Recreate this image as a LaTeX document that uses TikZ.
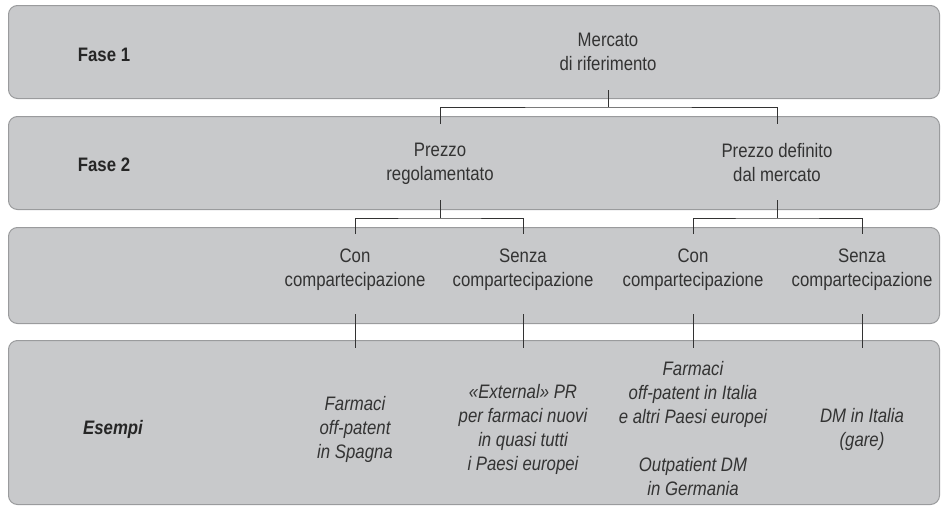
\documentclass[tikz,border=0pt]{standalone}
\usepackage{fontspec}
\setmainfont{Liberation Sans}[FakeStretch=0.86]
\usetikzlibrary{positioning}

\definecolor{bandgray}{HTML}{C8C9CB}
\definecolor{bandline}{HTML}{9A9B9D}
\definecolor{linkgray}{HTML}{333333}

\newcommand{\diagfont}{\fontsize{19.5}{24}\selectfont}

\tikzset{
  band/.style={draw=bandline, fill=bandgray, line width=1pt, rounded corners=9pt,
    minimum width=931pt, inner sep=0pt, anchor=north west},
  fase/.style={font=\diagfont\bfseries, text=black!85},
  lbl/.style={font=\diagfont, align=center, text=black!80},
  esempio/.style={font=\diagfont\itshape, align=center, text=black!80},
  link/.style={draw=linkgray, line width=1pt},
}

\begin{document}
\begin{tikzpicture}[x=1pt, y=-1pt]
  \useasboundingbox (0,0) rectangle (941,506);

  % bands
  \node[band, minimum height=93pt] (band1) at (8,5) {};
  \node[band, minimum height=93pt] (band2) at (8,116) {};
  \node[band, minimum height=96pt] (band3) at (8,227) {};
  \node[band, minimum height=164pt] (band4) at (8,340) {};

  % row titles
  \node[fase] (fase1) at (104,55) {Fase 1};
  \node[fase] (fase2) at (104,165) {Fase 2};
  \node[fase, font=\diagfont\bfseries\itshape] (esempi) at (113,429) {Esempi};

  % tree
  \node[lbl] (mercato) at (608,52) {Mercato\\di riferimento};
  \node[lbl] (regol) at (440,164) {Prezzo\\regolamentato};
  \node[lbl] (defin) at (777,163) {Prezzo definito\\dal mercato};

  \node[lbl] (con1) at (355,270) {Con\\compartecipazione};
  \node[lbl] (senza1) at (523,270) {Senza\\compartecipazione};
  \node[lbl] (con2) at (693,270) {Con\\compartecipazione};
  \node[lbl] (senza2) at (862,270) {Senza\\compartecipazione};

  \node[esempio] (es1) at (355,429) {Farmaci\\off-patent\\in Spagna};
  \node[esempio] (es2) at (523,429) {«External» PR\\per farmaci nuovi\\in quasi tutti\\i Paesi europei};
  \node[esempio] (es3) at (693,429) {Farmaci\\off-patent in Italia\\e altri Paesi europei\\[24pt]Outpatient DM\\in Germania};
  \node[esempio] (es4) at (862,429) {DM in Italia\\(gare)};

  % connector ends
  \coordinate (mfoot) at (608,90);
  \coordinate (mjoin) at (608,107);
  \coordinate (regtop) at (440,124);
  \coordinate (deftop) at (777,124);

  \coordinate (rfoot) at (440,200);
  \coordinate (rjoin) at (440,218);
  \coordinate (con1top) at (355,234);
  \coordinate (sen1top) at (523,234);

  \coordinate (dfoot) at (777,200);
  \coordinate (djoin) at (777,218);
  \coordinate (con2top) at (693,234);
  \coordinate (sen2top) at (862,234);

  \draw[link] (mfoot) -- (mjoin);
  \draw[link] (regtop) |- (mjoin) -| (deftop);

  \draw[link] (rfoot) -- (rjoin);
  \draw[link] (con1top) |- (rjoin) -| (sen1top);

  \draw[link] (dfoot) -- (djoin);
  \draw[link] (con2top) |- (djoin) -| (sen2top);

  \foreach \xx/\nm in {355/a,523/b,693/c,862/d}{
    \coordinate (up\nm) at (\xx,314);
    \coordinate (dn\nm) at (\xx,348);
    \draw[link] (up\nm) -- (dn\nm);
  }
\end{tikzpicture}
\end{document}
